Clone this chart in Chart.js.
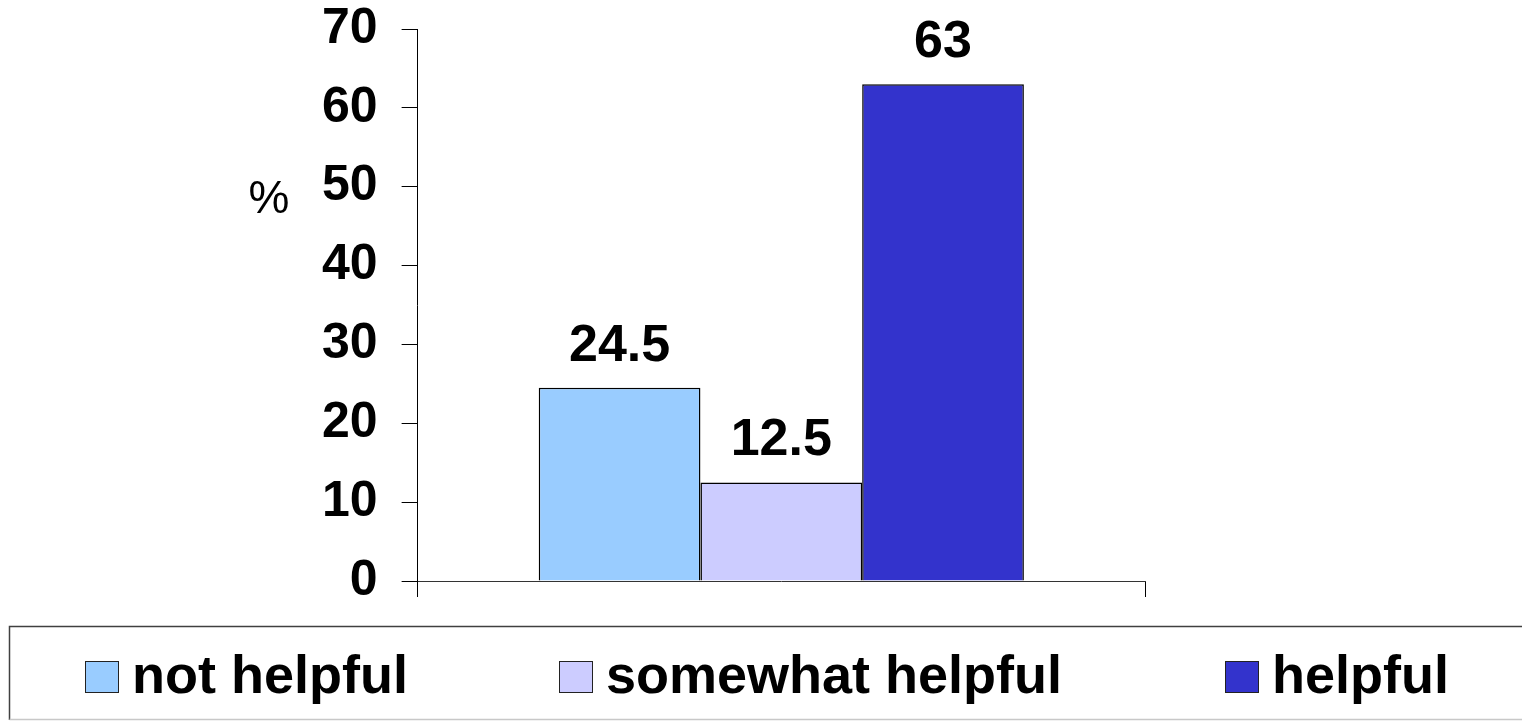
<!DOCTYPE html>
<html>
<head>
<meta charset="utf-8">
<script src="https://cdn.jsdelivr.net/npm/chart.js@4.4.1/dist/chart.umd.min.js"></script>
<style>
  body { margin: 0; background: #fff; }
  canvas { display: block; }
</style>
</head>
<body>
<canvas id="helpChart" width="1522" height="721"></canvas>
<script>
// survey answers, one group of three bars
let categories = ['']
let seriesLabels = ['not helpful', 'somewhat helpful', 'helpful']
let seriesValues = [24.5, 12.5, 63]
let seriesColors = ['#99ccff', '#ccccff', '#3333cc']
let yTickValues = [0, 10, 20, 30, 40, 50, 60, 70]
let yTitle = '%'

let fontFamily = '"Liberation Sans", Arial, Helvetica, sans-serif'

// value printed above each bar
let valueLabels = {
    id: 'valueLabels',
    afterDatasetsDraw(chart) {
        let ctx = chart.ctx
        ctx.save()
        ctx.fillStyle = '#000'
        ctx.font = 'bold 52px ' + fontFamily
        ctx.textAlign = 'center'
        ctx.textBaseline = 'alphabetic'
        chart.data.datasets.forEach(function (ds, i) {
            chart.getDatasetMeta(i).data.forEach(function (bar, j) {
                ctx.fillText(String(ds.data[j]), bar.x, bar.y - 27)
            })
        })
        ctx.restore()
    }
}

// unrotated "%" left of the value axis
let axisTitle = {
    id: 'axisTitle',
    afterDraw(chart) {
        let ctx = chart.ctx
        ctx.save()
        ctx.fillStyle = '#000'
        ctx.font = '46px ' + fontFamily
        ctx.textAlign = 'center'
        ctx.textBaseline = 'middle'
        ctx.fillText(yTitle, 269, 200)
        ctx.restore()
    }
}

// framed legend strip along the bottom
let boxLegend = {
    id: 'boxLegend',
    afterDraw(chart) {
        let ctx = chart.ctx
        let itemX = [85, 559, 1225]
        ctx.save()
        ctx.lineWidth = 1.5
        ctx.strokeStyle = '#404040'
        ctx.beginPath()
        ctx.moveTo(1530, 626.5)
        ctx.lineTo(9.5, 626.5)
        ctx.lineTo(9.5, 720)
        ctx.stroke()
        ctx.strokeStyle = '#c8c8c8'
        ctx.beginPath()
        ctx.moveTo(9.5, 719.5)
        ctx.lineTo(1530, 719.5)
        ctx.stroke()

        ctx.lineWidth = 1
        ctx.font = 'bold 54px ' + fontFamily
        ctx.textBaseline = 'alphabetic'
        ctx.textAlign = 'left'
        chart.data.datasets.forEach(function (ds, i) {
            let x = itemX[i]
            ctx.fillStyle = ds.backgroundColor
            ctx.fillRect(x + 0.5, 661.5, 33, 31)
            ctx.strokeStyle = '#222'
            ctx.strokeRect(x + 0.5, 661.5, 33, 31)
            ctx.fillStyle = '#000'
            ctx.fillText(ds.label, x + 47, 693)
        })
        ctx.restore()
    }
}

let datasets = seriesLabels.map(function (label, i) {
    return {
        label: label,
        data: [seriesValues[i]],
        backgroundColor: seriesColors[i],
        borderColor: '#000',
        borderWidth: 1.5,
        barPercentage: 1,
        categoryPercentage: 0.667
    }
})

let ctx = document.getElementById('helpChart').getContext('2d')
let helpChart = new Chart(ctx, {
    type: 'bar',
    data: {
        labels: categories,
        datasets: datasets
    },
    options: {
        responsive: false,
        animation: false,
        layout: {
            padding: { left: 298, right: 377, top: 0, bottom: 124 }
        },
        plugins: {
            legend: { display: false },
            tooltip: { enabled: false }
        },
        scales: {
            x: {
                offset: true,
                grid: {
                    offset: true,
                    drawOnChartArea: false,
                    tickLength: 16,
                    color: '#000'
                },
                border: { color: '#333', width: 1 },
                ticks: { display: false }
            },
            y: {
                min: 0,
                max: 70,
                afterBuildTicks: function (scale) {
                    scale.ticks = yTickValues.map(function (v) { return { value: v } })
                },
                grid: {
                    drawOnChartArea: false,
                    tickLength: 16,
                    color: '#000'
                },
                border: { color: '#000', width: 1 },
                ticks: {
                    padding: 24,
                    color: '#000',
                    // small line height keeps the top label from pushing the plot down
                    font: { family: fontFamily, size: 50, weight: 'bold', lineHeight: 0.2 }
                }
            }
        }
    },
    plugins: [valueLabels, axisTitle, boxLegend]
});
</script>
</body>
</html>
